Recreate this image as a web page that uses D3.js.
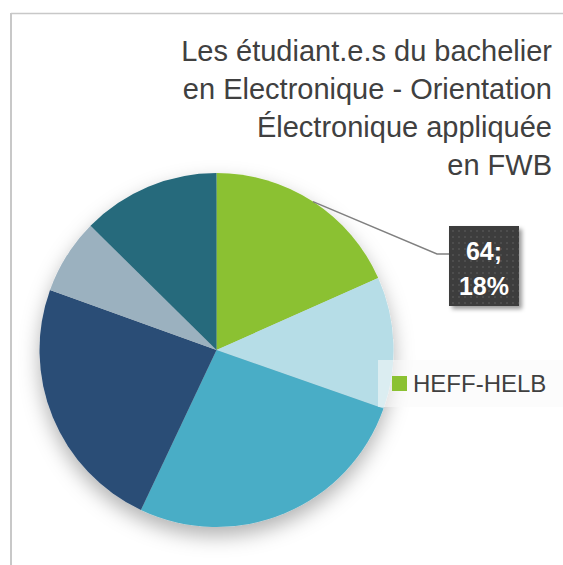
<!DOCTYPE html>
<html>
<head>
<meta charset="utf-8">
<script src="https://cdn.jsdelivr.net/npm/d3@7"></script>
<style>
  body { margin: 0; background: #fff; }
  text { font-family: "Liberation Sans", Arial, sans-serif; }
</style>
</head>
<body>
<div id="chart"></div>
<script>
// data (slices clockwise from 12 o'clock)
const schools = ["HEFF-HELB", "Ecole 2", "Ecole 3", "Ecole 4", "Ecole 5", "Ecole 6"]
const students = [64, 42, 93, 82, 24, 44]
const sliceColors = ["#8bc132", "#b6dde7", "#4aadc6", "#2c4e76", "#9bb1bf", "#276a7c"]
const titleLines = ["Les étudiant.e.s du bachelier", "en Electronique - Orientation", "Électronique appliquée", "en FWB"]
const shownLabel = 0   // only the first slice gets a label and a legend entry

const width = 563, height = 565
const cx = 216.5, cy = 350, radius = 177

var svg = d3.select("#chart")
  .append("svg")
    .attr("width", width)
    .attr("height", height)

var defs = svg.append("defs")

// soft shadow under the pie
var shadow = defs.append("filter")
    .attr("id", "pieShadow")
    .attr("x", "-30%").attr("y", "-30%")
    .attr("width", "160%").attr("height", "160%")
shadow.append("feDropShadow")
    .attr("dx", 0).attr("dy", 9)
    .attr("stdDeviation", 10)
    .attr("flood-color", "#000")
    .attr("flood-opacity", 0.3)

var boxShadow = defs.append("filter")
    .attr("id", "boxShadow")
    .attr("x", "-20%").attr("y", "-20%")
    .attr("width", "150%").attr("height", "150%")
boxShadow.append("feDropShadow")
    .attr("dx", 3).attr("dy", 3)
    .attr("stdDeviation", 2)
    .attr("flood-color", "#000")
    .attr("flood-opacity", 0.4)

// dotted texture of the data label
var dots = defs.append("pattern")
    .attr("id", "dots")
    .attr("width", 6).attr("height", 6)
    .attr("patternUnits", "userSpaceOnUse")
dots.append("rect").attr("width", 6).attr("height", 6).attr("fill", "#3d3d3d")
dots.append("circle").attr("cx", 3).attr("cy", 3).attr("r", 0.9).attr("fill", "#555")

// frame (only top and left edges show)
svg.append("line")
    .attr("x1", 11).attr("x2", width).attr("y1", 13.5).attr("y2", 13.5)
    .attr("stroke", "#c8c8c8").attr("stroke-width", 1.5)
svg.append("line")
    .attr("x1", 11).attr("x2", 11).attr("y1", 13).attr("y2", height)
    .attr("stroke", "#c8c8c8").attr("stroke-width", 2)

// title
svg.append("g")
  .selectAll("text")
  .data(titleLines)
  .enter().append("text")
    .attr("x", 552)
    .attr("y", (d, i) => 61 + i * 38)
    .attr("text-anchor", "end")
    .attr("font-size", "29px")
    .attr("fill", "#404040")
    .text(d => d)

// pie
const pie = d3.pie().sort(null).value(d => d)
const arcs = pie(students)
const arc = d3.arc().innerRadius(0).outerRadius(radius)

var pieG = svg.append("g")
    .attr("transform", `translate(${cx},${cy})`)
    .attr("filter", "url(#pieShadow)")

pieG.selectAll("path")
  .data(arcs)
  .enter().append("path")
    .attr("d", arc)
    .attr("fill", (d, i) => sliceColors[i])

// leader line + data label for HEFF-HELB
const total = d3.sum(students)
const a0 = arcs[shownLabel]
const mid = (a0.startAngle + a0.endAngle) / 2
const sx = cx + radius * Math.sin(mid), sy = cy - radius * Math.cos(mid)
const boxX = 449, boxY = 226, boxW = 70, boxH = 80

svg.append("polyline")
    .attr("points", [[sx, sy], [437, 254], [boxX, 254]].map(p => p.join(",")).join(" "))
    .attr("fill", "none")
    .attr("stroke", "#808080")
    .attr("stroke-width", 1.5)

svg.append("rect")
    .attr("x", boxX).attr("y", boxY)
    .attr("width", boxW).attr("height", boxH)
    .attr("fill", "url(#dots)")
    .attr("filter", "url(#boxShadow)")

const labelLines = [students[shownLabel] + ";", Math.round(students[shownLabel] / total * 100) + "%"]
svg.append("g")
  .selectAll("text")
  .data(labelLines)
  .enter().append("text")
    .attr("x", boxX + boxW / 2)
    .attr("y", (d, i) => 260 + i * 35)
    .attr("text-anchor", "middle")
    .attr("font-size", "25px")
    .attr("font-weight", "bold")
    .attr("fill", "#fff")
    .text(d => d)

// legend
var legend = svg.append("g")
legend.append("rect")
    .attr("x", 378).attr("y", 360)
    .attr("width", width - 378).attr("height", 47)
    .attr("fill", "#fafafa").attr("fill-opacity", 0.55)
legend.append("rect")
    .attr("x", 392).attr("y", 376)
    .attr("width", 15).attr("height", 15)
    .attr("fill", sliceColors[shownLabel])
legend.append("text")
    .attr("x", 413).attr("y", 392)
    .attr("font-size", "24px")
    .attr("fill", "#404040")
    .text(schools[shownLabel])
</script>
</body>
</html>
